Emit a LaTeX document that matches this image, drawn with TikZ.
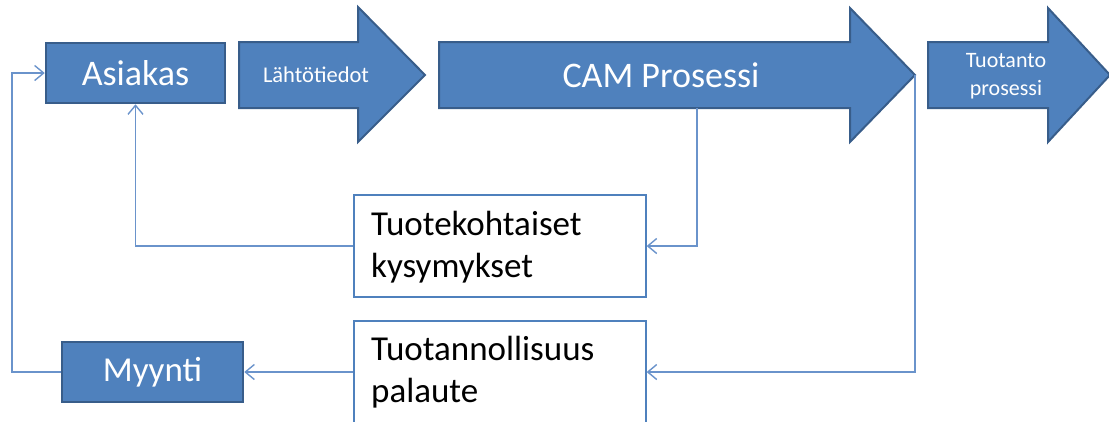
\documentclass[tikz,border=0pt]{standalone}
\usepackage{fontspec}
\setmainfont{Carlito}
\usetikzlibrary{arrows.meta}
\definecolor{accent}{HTML}{4F81BD}
\definecolor{accentdark}{HTML}{385D8A}
\definecolor{conncol}{HTML}{6A93CB}
\begin{document}
\begin{tikzpicture}[x=1pt,y=-1pt,
  blockshape/.style={fill=accent,draw=accentdark,line width=2pt,line join=miter},
  bluebox/.style={rectangle,fill=accent,draw=accentdark,line width=2.5pt,text=white,inner sep=0pt},
  whitebox/.style={rectangle,fill=white,draw=accent,line width=1.3pt,inner sep=0pt},
  bigfont/.style={font=\fontsize{36}{36}\selectfont},
  boxtext/.style={anchor=base west,align=left,inner sep=0pt,text=black,font=\fontsize{35}{42}\selectfont},
  conn/.style={draw=conncol,line width=1.8pt,-{Straight Barb[length=9pt,width=15pt,line width=1.4pt]}},
]
\useasboundingbox (0,0) rectangle (1109,421);
\clip (0,0) rectangle (1109,421);

% block arrows
\draw[blockshape] (239,42) -- (358,42) -- (358,7) -- (425,75) -- (358,142) -- (358,108) -- (239,108) -- cycle;
\node[text=white,font=\fontsize{22.5}{22.5}\selectfont] (lahto) at (316,75) {Lähtötiedot};

\draw[blockshape] (439,42) -- (850,42) -- (850,8) -- (915,75) -- (850,142) -- (850,108) -- (439,108) -- cycle;
\node[text=white,bigfont] (cam) at (661,75) {CAM Prosessi};
\coordinate (camtip) at (915,75);
\coordinate (cambot) at (697,108);

\draw[blockshape] (928,42) -- (1048,42) -- (1048,8) -- (1110,75) -- (1048,142) -- (1048,108) -- (928,108) -- cycle;
\node[text=white,align=center,font=\fontsize{22}{28}\selectfont] (tuot) at (1006,76) {Tuotanto\\prosessi};

% boxes
\node[bluebox,bigfont,minimum width=179pt,minimum height=60pt] (asiakas) at (135.5,73) {Asiakas};
\node[bluebox,font=\fontsize{35}{35}\selectfont,minimum width=181pt,minimum height=60pt] (myynti) at (152.5,372) {Myynti};

\node[whitebox,minimum width=292pt,minimum height=102pt] (kys) at (500,246) {};
\node[boxtext] (kystext) at (371,277) {Tuotekohtaiset\\kysymykset};

\node[whitebox,minimum width=292pt,minimum height=102pt] (pal) at (500,372) {};
\node[boxtext] (paltext) at (371,402) {Tuotannollisuus\\palaute};

\coordinate (leftrail) at (12,0);

% connectors
\draw[conn] (kys.west) -| (asiakas.south);
\draw[conn] (myynti.west) -- (myynti.west -| leftrail) |- (asiakas.west);
\draw[conn] (cambot) |- (kys.east);
\draw[conn] (camtip) |- (pal.east);
\draw[conn] (pal.west) -- (myynti.east);
\end{tikzpicture}
\end{document}
